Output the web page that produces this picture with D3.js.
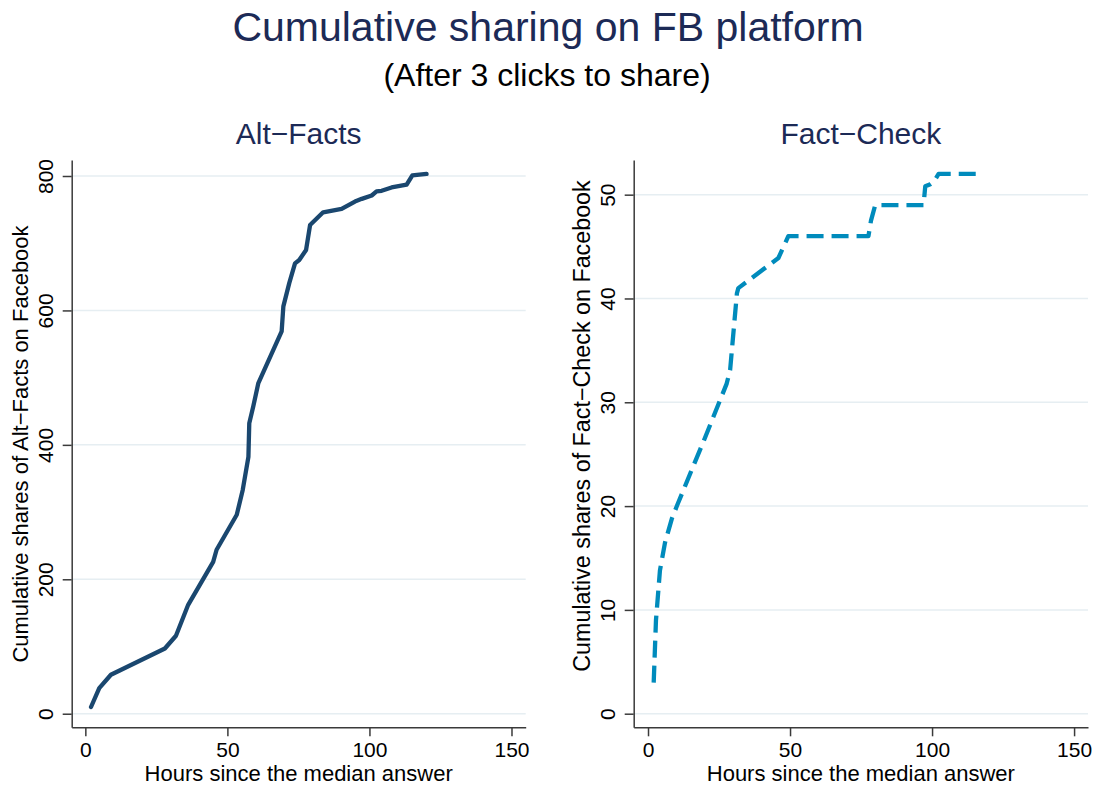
<!DOCTYPE html>
<html>
<head>
<meta charset="utf-8">
<script src="https://cdn.jsdelivr.net/npm/d3@7"></script>
<style>
    body { margin: 0; background: #fff; }
    svg text { font-family: "Liberation Sans", Arial, sans-serif; }
</style>
</head>
<body>
<div id="chart"></div>
<script>
// data
const altFactsHours = [2, 4.9, 9, 28, 31.9, 36.2, 45, 46.2, 53.3, 55.4, 57.4, 57.7, 59.1, 60.9, 69.1, 69.7, 71.8, 73.8, 75.3, 77.7, 79.1, 83.7, 90.2, 94.9, 97.3, 100.8, 102.5, 104.3, 107.8, 113.1, 115.1, 120.1]
const altFactsShares = [10, 38, 58, 97, 116, 162, 226, 244, 296, 333, 382, 432, 457, 492, 569, 606, 641, 670, 675, 690, 727, 746, 751, 762, 766, 771, 777, 778, 783, 787, 801, 803]
const factCheckHours = [2, 2.8, 4.2, 6, 8.4, 10.3, 16, 19.5, 27.7, 28.9, 31.3, 31.8, 45.9, 49.4, 77.6, 78.5, 80, 97, 97.6, 99.4, 100.5, 102.3, 117]
const factCheckShares = [3, 9, 13.8, 16.5, 18.8, 20.1, 23.9, 26.2, 31.8, 33.1, 40.5, 41, 43.9, 46, 46, 47.5, 49, 49, 50.8, 51, 51.2, 52, 52]
const xTicks = [0, 50, 100, 150]
const altFactsTicks = [0, 200, 400, 600, 800]
const factCheckTicks = [0, 10, 20, 30, 40, 50]

const titleColor = "#1c2a56"
const axisColor = "#3a3a3a"
const gridColor = "#e6eef2"

const width = 1098, height = 789

const svg = d3.select("#chart").append("svg")
    .attr("width", width)
    .attr("height", height)

svg.append("rect").attr("width", width).attr("height", height).attr("fill", "#fff")

// titles
svg.append("text")
    .attr("x", 548).attr("y", 41)
    .attr("text-anchor", "middle")
    .attr("font-size", 41)
    .attr("fill", titleColor)
    .text("Cumulative sharing on FB platform")
svg.append("text")
    .attr("x", 547).attr("y", 86)
    .attr("text-anchor", "middle")
    .attr("font-size", 32)
    .attr("fill", "#000")
    .text("(After 3 clicks to share)")

function drawPanel(opts) {
    const data = opts.xs.map((x, i) => ({x: x, y: opts.ys[i]}))
    const g = svg.append("g")

    const xScale = d3.scaleLinear().domain(opts.xDomain).range([opts.left, opts.right])
    const yScale = d3.scaleLinear().domain(opts.yDomain).range([opts.bottom, opts.top])

    // panel title
    g.append("text")
        .attr("x", (opts.left + opts.right) / 2).attr("y", 144)
        .attr("text-anchor", "middle")
        .attr("font-size", 30)
        .attr("fill", titleColor)
        .text(opts.title)

    // grid
    g.selectAll(".grid")
        .data(opts.yTicks)
        .join("line")
        .attr("x1", opts.left).attr("x2", opts.right)
        .attr("y1", d => yScale(d)).attr("y2", d => yScale(d))
        .attr("stroke", gridColor)
        .attr("stroke-width", 1.5)

    // axes
    const yAxis = g.append("g")
        .attr("transform", "translate(" + opts.left + ",0)")
        .call(d3.axisLeft(yScale).tickValues(opts.yTicks).tickSizeInner(9).tickSizeOuter(0))
    yAxis.selectAll("text")
        .attr("x", 0).attr("y", -19).attr("dy", null)
        .attr("text-anchor", "middle")
        .attr("transform", "rotate(-90)")

    const xAxis = g.append("g")
        .attr("transform", "translate(0," + opts.bottom + ")")
        .call(d3.axisBottom(xScale).tickValues(xTicks).tickSizeInner(9).tickSizeOuter(0))
    xAxis.selectAll("text").attr("y", 30).attr("dy", null)

    for (const ax of [xAxis, yAxis]) {
        ax.selectAll("path, line").attr("stroke", axisColor).attr("stroke-width", 1.5)
        ax.selectAll("text").attr("font-size", 21).attr("fill", "#000")
            .attr("font-family", "Liberation Sans, Arial, sans-serif")
    }

    // axis titles
    g.append("text")
        .attr("x", (opts.left + opts.right) / 2).attr("y", 781)
        .attr("text-anchor", "middle")
        .attr("font-size", 22)
        .text("Hours since the median answer")
    g.append("text")
        .attr("transform", "translate(" + opts.yTitleX + "," + opts.yTitleY + ") rotate(-90)")
        .attr("text-anchor", "middle")
        .attr("font-size", opts.yTitleSize)
        .text(opts.yTitle)

    // line
    const line = d3.line()
        .x(d => xScale(d.x))
        .y(d => yScale(d.y))
    const path = g.append("path")
        .attr("d", line(data))
        .attr("fill", "none")
        .attr("stroke", opts.color)
        .attr("stroke-width", 4.3)
        .attr("stroke-linejoin", "round")
    if (opts.dash) {
        path.attr("stroke-dasharray", opts.dash).attr("stroke-linecap", "butt")
    } else {
        path.attr("stroke-linecap", "round")
    }
}

drawPanel({
    title: "Alt\u2212Facts",
    yTitle: "Cumulative shares of Alt\u2212Facts on Facebook",
    xs: altFactsHours, ys: altFactsShares,
    yTicks: altFactsTicks,
    xDomain: [-4.8, 155], yDomain: [-20.2, 823.8],
    left: 71.7, right: 525.7, top: 160, bottom: 727.3,
    yTitleX: 28, yTitleY: 444, yTitleSize: 22,
    color: "#1a476f"
})

drawPanel({
    title: "Fact\u2212Check",
    yTitle: "Cumulative shares of Fact\u2212Check on Facebook",
    xs: factCheckHours, ys: factCheckShares,
    yTicks: factCheckTicks,
    xDomain: [-5.04, 154.9], yDomain: [-1.31, 53.34],
    left: 633.7, right: 1088, top: 160, bottom: 727.3,
    yTitleX: 590, yTitleY: 426, yTitleSize: 23.3,
    color: "#008bbc",
    dash: "17,8"
})
</script>
</body>
</html>
